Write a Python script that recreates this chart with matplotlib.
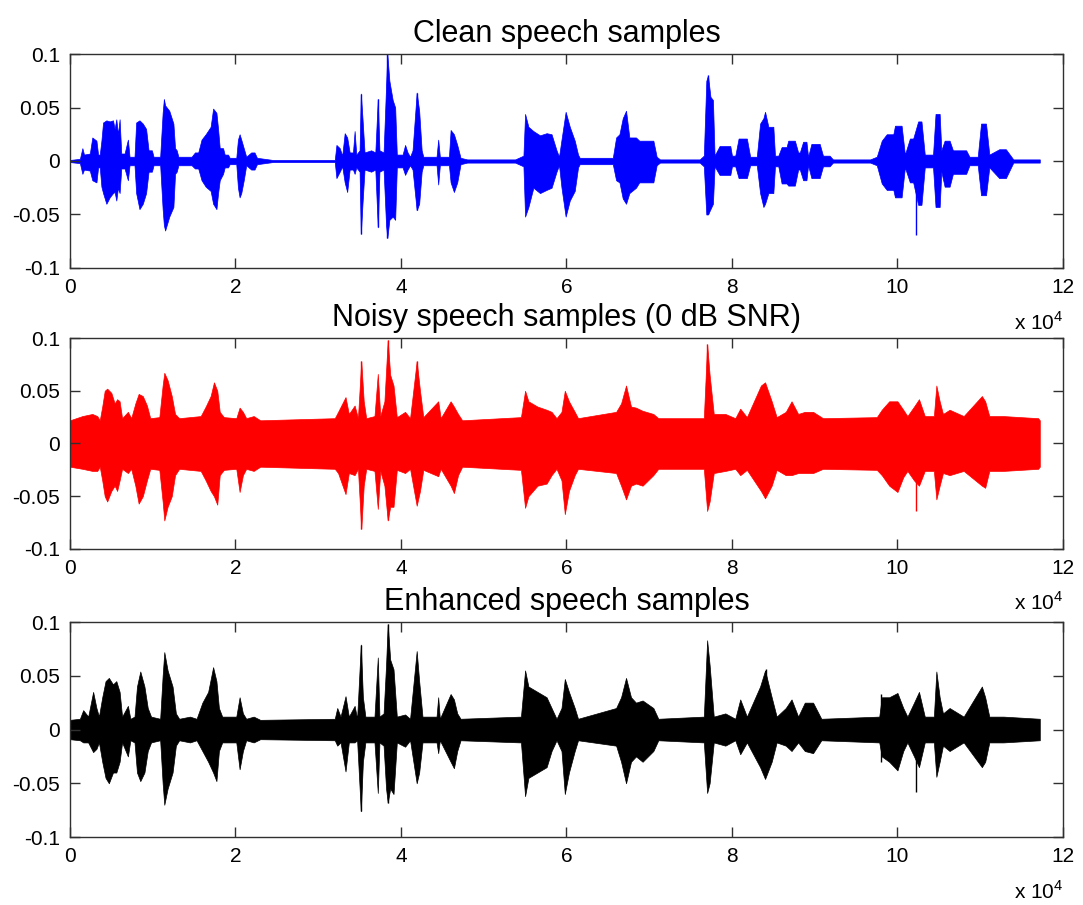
import numpy as np
import matplotlib
matplotlib.use("Agg")
import matplotlib.pyplot as plt
from matplotlib.ticker import FuncFormatter

# envelope breakpoints: (sample, upper, lower)
clean_env = [
    (0, .001, -.001), (1200, .002, -.002), (1500, .012, -.012), (1700, .006, -.008), (2400, .007, -.009),
    (2700, .022, -.018), (3200, .019, -.020), (3400, .006, -.006), (3600, .006, -.006), (3800, .019, -.024),
    (4000, .036, -.030), (4400, .038, -.040), (4800, .037, -.034), (5200, .038, -.030), (5400, .030, -.029),
    (5600, .039, -.037), (5800, .025, -.025), (6000, .039, -.030), (6200, .007, -.007), (6600, .007, -.007),
    (7000, .020, -.018), (7200, .004, -.004), (7800, .004, -.004), (8000, .036, -.030), (8400, .038, -.045),
    (8800, .035, -.040), (9200, .030, -.030), (9500, .010, -.010), (9900, .010, -.010), (10100, .004, -.004),
    (10900, .004, -.004), (11200, .045, -.045), (11350, .058, -.060), (11500, .052, -.065), (12000, .047, -.052),
    (12500, .035, -.043), (12700, .012, -.012), (12900, .010, -.010), (13100, .004, -.004), (14700, .004, -.004),
    (15100, .008, -.007), (15500, .008, -.007), (15900, .020, -.018), (16400, .025, -.024), (17000, .032, -.028),
    (17300, .049, -.040), (17700, .045, -.045), (17900, .030, -.030), (18100, .012, -.018), (18500, .012, -.012),
    (18700, .006, -.006), (19100, .006, -.006), (19300, .003, -.003), (20100, .003, -.003), (20300, .020, -.025),
    (20500, .025, -.034), (20700, .020, -.030), (21000, .012, -.018), (21300, .004, -.004), (21900, .008, -.008),
    (22300, .008, -.008), (22600, .003, -.003), (24500, .001, -.001), (32000, .001, -.001), (32200, .015, -.016),
    (32600, .012, -.010), (32900, .005, -.005), (33200, .026, -.020), (33500, .022, -.029), (33800, .008, -.008),
    (34200, .008, -.008), (34400, .028, -.012), (34600, .006, -.006), (35000, .010, -.010), (35150, .063, -.068),
    (35350, .040, -.040), (35600, .008, -.008), (36400, .010, -.010), (36900, .008, -.008), (37200, .058, -.062),
    (37400, .010, -.010), (37900, .008, -.008), (38200, .070, -.060), (38350, .100, -.072), (38600, .075, -.055),
    (39000, .057, -.052), (39300, .050, -.055), (39500, .006, -.006), (40200, .006, -.006), (40500, .015, -.013),
    (40800, .008, -.008), (41100, .004, -.004), (41400, .010, -.008), (41900, .064, -.046), (42200, .047, -.040),
    (42500, .010, -.010), (42700, .004, -.004), (44300, .004, -.004), (44500, .020, -.022), (44700, .004, -.004),
    (45800, .004, -.004), (46000, .029, -.020), (46400, .025, -.029), (46800, .015, -.020), (47200, .003, -.003),
    (48000, .0015, -.0015), (53800, .0015, -.0015), (54800, .005, -.005), (55000, .044, -.052),
    (55400, .032, -.043), (56000, .028, -.025),
    (56800, .024, -.030), (57600, .026, -.027), (58200, .025, -.025), (58800, .010, -.010), (59100, .004, -.004),
    (59400, .020, -.025), (59900, .046, -.052), (60400, .032, -.037), (61000, .019, -.028), (61400, .006, -.006),
    (61600, .003, -.003), (65600, .003, -.003), (66000, .022, -.018), (66400, .025, -.020), (66800, .040, -.035),
    (67200, .047, -.040), (67600, .022, -.030), (68400, .022, -.025), (68800, .019, -.020), (70500, .019, -.020),
    (70900, .004, -.004), (71300, .0015, -.0015), (76100, .0015, -.0015), (76600, .005, -.005), (76900, .075, -.050),
    (77100, .080, -.050), (77400, .060, -.045), (77700, .057, -.040), (77900, .005, -.005), (78500, .014, -.013),
    (79800, .014, -.013), (80000, .005, -.005), (80400, .005, -.005), (80800, .021, -.016), (81800, .021, -.016),
    (82200, .004, -.004), (83000, .004, -.004), (83400, .035, -.030), (83800, .040, -.043), (84000, .046, -.040),
    (84400, .032, -.030), (85000, .032, -.030), (85200, .005, -.005), (85600, .005, -.005), (86000, .013, -.021),
    (86600, .013, -.021), (86800, .019, -.023), (87600, .019, -.023), (88000, .008, -.008), (88200, .008, -.008),
    (88600, .018, -.018), (89000, .018, -.018), (89200, .004, -.004), (89600, .016, -.016), (90600, .016, -.016),
    (91000, .005, -.005), (91800, .005, -.005), (92200, .0015, -.0015), (96700, .0015, -.0015), (97500, .004, -.004),
    (98100, .019, -.021), (98700, .025, -.027), (99500, .025, -.027), (99700, .033, -.034), (100500, .033, -.034),
    (100900, .006, -.006), (101500, .021, -.020), (101900, .021, -.020), (102500, .037, -.041), (102900, .037, -.041),
    (103300, .006, -.006), (104300, .006, -.006), (104600, .044, -.043), (105100, .044, -.043), (105300, .010, -.010),
    (105700, .019, -.024), (106300, .019, -.024), (106700, .010, -.012), (108300, .010, -.012), (108700, .004, -.004),
    (109700, .004, -.004), (110100, .035, -.032), (110700, .035, -.032), (111100, .006, -.006), (112300, .011, -.016),
    (113100, .011, -.016), (114000, .0015, -.0015), (117200, .0015, -.0015),
]
clean_spikes = [(102270, 0.005, -0.069), (38350, 0.100, -0.072), (35150, 0.063, -0.068),
                (37200, 0.058, -0.062), (41900, 0.064, -0.046), (77100, 0.080, -0.050)]

noisy_env = [
    (0, .022, -.022), (1500, .026, -.024), (2700, .028, -.026), (3300, .026, -.026), (3600, .022, -.022),
    (3900, .035, -.035), (4200, .050, -.050), (4500, .052, -.055), (5000, .048, -.045), (5400, .038, -.040),
    (5700, .042, -.045), (6000, .040, -.035), (6300, .024, -.024), (7000, .030, -.028), (7400, .024, -.024),
    (7900, .038, -.040), (8300, .047, -.057), (8800, .045, -.050), (9300, .036, -.035), (9700, .024, -.024),
    (10800, .025, -.025), (11200, .055, -.055), (11400, .067, -.073), (11800, .060, -.060), (12300, .045, -.050),
    (12700, .028, -.030), (13200, .024, -.024), (15800, .026, -.026), (16400, .035, -.035), (17000, .045, -.045),
    (17400, .058, -.050), (17800, .050, -.058), (18100, .030, -.030), (18600, .025, -.025), (20100, .024, -.024),
    (20500, .034, -.046), (20900, .030, -.030), (21300, .024, -.024), (22200, .026, -.026), (23000, .022, -.022),
    (32000, .024, -.024), (32400, .030, -.028), (33300, .044, -.048), (33700, .028, -.028), (34400, .036, -.030),
    (34800, .024, -.024), (35200, .078, -.081), (35500, .040, -.040), (35800, .024, -.024), (36800, .026, -.026),
    (37200, .066, -.062), (37500, .026, -.026), (38000, .040, -.040), (38400, .098, -.073), (38700, .065, -.060),
    (39100, .055, -.060), (39500, .025, -.025), (40500, .030, -.028), (41100, .024, -.024), (41900, .078, -.059),
    (42300, .050, -.045), (42700, .025, -.025), (44500, .040, -.031), (44800, .024, -.024), (46000, .040, -.040),
    (46400, .035, -.047), (46900, .028, -.030), (47400, .022, -.022), (54500, .025, -.025), (55000, .050, -.061),
    (55400, .040, -.050), (56500, .035, -.040), (57600, .032, -.038), (58200, .030, -.030), (58800, .024, -.024),
    (59400, .030, -.035), (59800, .050, -.067), (60300, .040, -.045), (61000, .030, -.030), (61400, .024, -.024),
    (66000, .030, -.028), (66600, .038, -.040), (67200, .055, -.053), (67800, .035, -.040), (68400, .034, -.038),
    (69200, .031, -.040), (70500, .028, -.030), (71100, .024, -.024), (76600, .024, -.024), (77000, .094, -.064),
    (77300, .065, -.055), (77800, .028, -.028), (79200, .028, -.026), (80400, .024, -.024), (81000, .033, -.030),
    (81800, .025, -.025), (83500, .055, -.045), (84000, .058, -.052), (84800, .040, -.040), (85400, .025, -.025),
    (86500, .030, -.030), (87200, .040, -.030), (88000, .028, -.028), (88800, .030, -.028), (89800, .030, -.028),
    (91000, .024, -.024), (97500, .025, -.025), (98100, .032, -.030), (99000, .040, -.040), (100000, .040, -.046),
    (100700, .032, -.032), (101200, .026, -.026), (102000, .035, -.035), (102600, .042, -.040), (103300, .026, -.026),
    (104400, .026, -.026), (104700, .055, -.053), (105100, .040, -.040), (105500, .028, -.028), (106300, .032, -.030),
    (108000, .026, -.026), (110200, .045, -.040), (110600, .040, -.042), (111100, .026, -.026), (112800, .026, -.026),
    (117000, .024, -.024), (117200, .022, -.022),
]
noisy_spikes = [(102270, 0.02, -0.064), (77000, 0.094, -0.02), (35200, 0.078, -0.081),
                (38400, 0.098, -0.073), (41900, 0.078, -0.02)]

enh_env = [
    (0, .009, -.009), (1200, .010, -.010), (1600, .018, -.012), (2200, .012, -.012), (2800, .035, -.021),
    (3200, .020, -.018), (3500, .012, -.012), (3900, .030, -.030), (4300, .045, -.045), (4700, .048, -.050),
    (5200, .042, -.040), (5600, .045, -.040), (6000, .035, -.030), (6300, .012, -.012), (7000, .022, -.025),
    (7300, .010, -.010), (7800, .012, -.012), (8100, .040, -.040), (8500, .054, -.048), (9000, .040, -.040),
    (9400, .020, -.020), (9800, .012, -.012), (10900, .010, -.010), (11200, .050, -.050), (11400, .072, -.070),
    (11800, .055, -.055), (12400, .040, -.040), (12800, .015, -.015), (13200, .010, -.010), (14500, .012, -.012),
    (15300, .010, -.010), (16000, .025, -.020), (16700, .035, -.030), (17300, .058, -.040), (17700, .045, -.048),
    (18000, .020, -.020), (18400, .012, -.012), (20100, .012, -.012), (20500, .030, -.037), (20900, .015, -.020),
    (21300, .010, -.010), (22200, .012, -.012), (23000, .009, -.009), (32000, .010, -.010), (32300, .020, -.015),
    (32700, .012, -.012), (33300, .031, -.039), (33700, .012, -.012), (34400, .022, -.012), (34700, .010, -.010),
    (35150, .079, -.076), (35400, .030, -.030), (35700, .012, -.012), (36800, .012, -.012), (37200, .067, -.059),
    (37400, .012, -.012), (37900, .015, -.015), (38200, .060, -.055), (38400, .098, -.068), (38700, .065, -.055),
    (39100, .056, -.060), (39500, .012, -.012), (40500, .014, -.016), (41100, .010, -.010), (41900, .073, -.050),
    (42200, .045, -.040), (42600, .012, -.012), (44300, .012, -.012), (44500, .030, -.022), (44700, .010, -.010),
    (46000, .033, -.030), (46400, .028, -.036), (46800, .015, -.020), (47200, .010, -.010), (54500, .012, -.012),
    (55000, .055, -.062), (55400, .040, -.045), (56500, .035, -.040), (57600, .030, -.035), (58200, .020, -.020),
    (58800, .010, -.010), (59400, .020, -.020), (59800, .047, -.060), (60300, .035, -.040), (61000, .020, -.020),
    (61400, .010, -.010), (66000, .020, -.015), (66600, .030, -.030), (67200, .048, -.050), (67800, .030, -.030),
    (68400, .025, -.025), (69200, .027, -.030), (70500, .020, -.020), (71100, .010, -.010), (76600, .012, -.012),
    (77000, .083, -.059), (77300, .060, -.050), (77800, .012, -.012), (79200, .015, -.015), (80400, .010, -.010),
    (81000, .028, -.023), (81800, .012, -.012), (83400, .040, -.035), (84000, .055, -.046), (84800, .030, -.030),
    (85400, .012, -.012), (86500, .020, -.015), (87200, .028, -.020), (88000, .012, -.012), (88800, .025, -.020),
    (89800, .025, -.022), (90800, .010, -.010), (97800, .012, -.012), (98100, .030, -.025), (99000, .030, -.030),
    (100000, .034, -.038), (100700, .020, -.020), (101200, .012, -.012), (102000, .025, -.025), (102600, .035, -.035),
    (103300, .012, -.012), (104400, .012, -.012), (104700, .054, -.044), (105100, .030, -.030), (105500, .015, -.015),
    (106300, .020, -.020), (108000, .012, -.012), (110200, .040, -.035), (110600, .030, -.030), (111100, .012, -.012),
    (112800, .012, -.012), (117200, .010, -.010),
]
enh_spikes = [(102270, 0.01, -0.058), (84100, 0.056, -0.01), (98000, 0.033, -0.03),
              (38400, 0.098, -0.068), (35150, 0.079, -0.076)]

titles = ["Clean speech samples", "Noisy speech samples (0 dB SNR)", "Enhanced speech samples"]
colors = ["#0000ff", "#ff0000", "#000000"]
ytick_vals = [-0.1, -0.05, 0, 0.05, 0.1]
ytick_labels = ["-0.1", "-0.05", "0", "0.05", "0.1"]

plt.rcParams['font.family'] = ['Liberation Sans', 'DejaVu Sans']
plt.rcParams['mathtext.fontset'] = 'custom'
plt.rcParams['mathtext.rm'] = 'Liberation Sans'

fig = plt.figure(figsize=(10.83, 9.05), dpi=100)
rects = [[0.0646, 0.7039, 0.9169, 0.2364],
         [0.0646, 0.3934, 0.9169, 0.2331],
         [0.0646, 0.0751, 0.9169, 0.2376]]

for rect, title, env, spikes, clr in zip(rects, titles,
                                          [clean_env, noisy_env, enh_env],
                                          [clean_spikes, noisy_spikes, enh_spikes],
                                          colors):
    ax = fig.add_axes(rect)
    e = np.array(env)
    ax.fill_between(e[:, 0], e[:, 2], e[:, 1], color=clr, lw=0.5)
    s = np.array(spikes)
    ax.vlines(s[:, 0], s[:, 2], s[:, 1], color=clr, lw=1.0)

    ax.set_xlim(0, 120000)
    ax.set_ylim(-0.1, 0.1)
    ax.set_xticks(np.arange(0, 120001, 20000))
    ax.xaxis.set_major_formatter(FuncFormatter(lambda v, p: f"{v / 1e4:g}"))
    ax.set_yticks(ytick_vals, ytick_labels)
    ax.tick_params(direction='in', top=True, right=True, length=7, width=1,
                   color='#303030', labelsize=15, pad=7)
    for sp in ax.spines.values():
        sp.set_color('#303030')
        sp.set_linewidth(1.0)
    ax.set_title(title, fontsize=22, pad=9)
    ax.text(1.0, -0.2, r'x 10$^{\mathregular{4}}$', transform=ax.transAxes,
            ha='right', va='top', fontsize=15)

fig.savefig("out.png", dpi=100)
